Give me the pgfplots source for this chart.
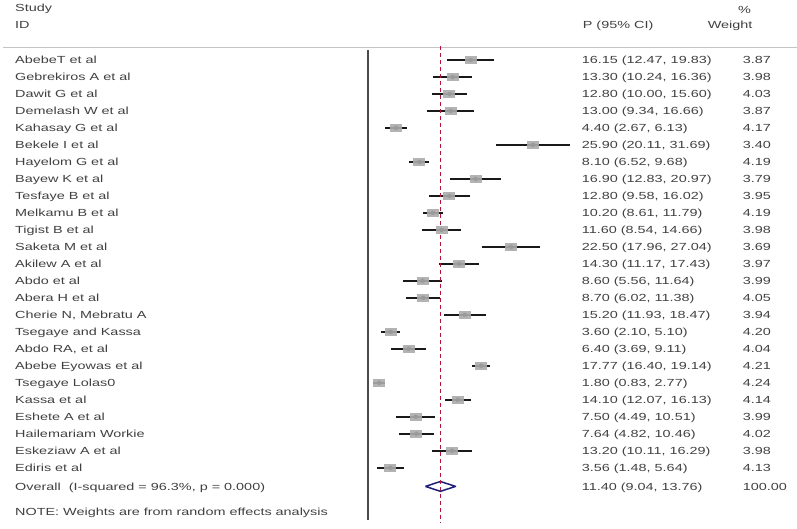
\documentclass[border=0pt]{standalone}
\usepackage{pgfplots}
\pgfplotsset{compat=1.18}
\usepackage{pgfplotstable}
\usepackage{fontspec}
\setmainfont{Liberation Sans}[FakeStretch=1.4]

\definecolor{txt}{HTML}{404040}
\definecolor{boxg}{HTML}{ABABAB}
\definecolor{zline}{HTML}{4A4A4A}
\definecolor{redd}{HTML}{B4143C}
\definecolor{dia}{HTML}{1E1E78}
\definecolor{hline}{HTML}{C4C4C4}

% row, estimate, lower, upper, weight
\pgfplotstableread{
row p lo hi w
1 16.15 12.47 19.83 3.87
2 13.30 10.24 16.36 3.98
3 12.80 10.00 15.60 4.03
4 13.00 9.34 16.66 3.87
5 4.40 2.67 6.13 4.17
6 25.90 20.11 31.69 3.40
7 8.10 6.52 9.68 4.19
8 16.90 12.83 20.97 3.79
9 12.80 9.58 16.02 3.95
10 10.20 8.61 11.79 4.19
11 11.60 8.54 14.66 3.98
12 22.50 17.96 27.04 3.69
13 14.30 11.17 17.43 3.97
14 8.60 5.56 11.64 3.99
15 8.70 6.02 11.38 4.05
16 15.20 11.93 18.47 3.94
17 3.60 2.10 5.10 4.20
18 6.40 3.69 9.11 4.04
19 17.77 16.40 19.14 4.21
20 1.80 0.83 2.77 4.24
21 14.10 12.07 16.13 4.14
22 7.50 4.49 10.51 3.99
23 7.64 4.82 10.46 4.02
24 13.20 10.11 16.29 3.98
25 3.56 1.48 5.64 4.13
}\studies

\newcommand\txtfont{\fontsize{10.3}{12}\selectfont}
% one study row: row, name, estimate text, weight
\newcommand\srow[4]{%
  \node[anchor=base west, text=txt, font=\txtfont, yshift=-3.7pt, inner sep=0pt] at (axis cs:-55.33,#1) {#2};
  \node[anchor=base west, text=txt, font=\txtfont, yshift=-3.7pt, inner sep=0pt] at (axis cs:33.54,#1) {#3};
  \node[anchor=base west, text=txt, font=\txtfont, yshift=-3.7pt, inner sep=0pt] at (axis cs:58.78,#1) {#4};
}

\begin{document}
\begin{tikzpicture}
\begin{axis}[
  scale only axis, width=797pt, height=529pt,
  xmin=-57.68, xmax=67.24, ymin=-2.529, ymax=28.588,
  y dir=reverse, clip=false,
  axis line style={draw=none}, ticks=none
]
% header rule
\addplot[hline, line width=1pt] coordinates {(-57.2,0.294)(67.24,0.294)};
% line of no effect
\addplot[zline, line width=2.4pt] coordinates {(0,0.41)(0,28.06)};

% confidence intervals
\addplot[only marks, mark=none,
  error bars/.cd, x dir=both, x explicit, error mark=none,
  error bar style={draw=black!90, line width=2.4pt}]
  table[x=p, y=row,
    x error minus expr=\thisrow{p}-\thisrow{lo},
    x error plus expr=\thisrow{hi}-\thisrow{p}] {\studies};

% weight boxes
\addplot[only marks, mark=square*, mark size=4pt, draw=none, fill=boxg,
  mark options={xscale=1.5, draw=none, draw opacity=0, fill=boxg, fill opacity=0.9}]
  table[x=p, y=row] {\studies};

% overall diamond
\addplot[dia, line width=1.5pt, line join=round, fill=white]
  coordinates {(9.04,26.1)(11.40,25.81)(13.76,26.1)(11.40,26.39)(9.04,26.1)};

% overall estimate
\addplot[redd, line width=1.1pt, dash pattern=on 4pt off 3pt]
  coordinates {(11.40,0.18)(11.40,28.24)};

% headers
\node[anchor=base west, text=txt, font=\txtfont, yshift=-3.7pt, inner sep=0pt] at (axis cs:-55.33,-2.06) {Study};
\node[anchor=base west, text=txt, font=\txtfont, yshift=-3.7pt, inner sep=0pt] at (axis cs:-55.33,-1.06) {ID};
\node[anchor=base west, text=txt, font=\txtfont, yshift=-3.7pt, inner sep=0pt] at (axis cs:33.70,-1.06) {P (95\% CI)};
\node[anchor=base west, text=txt, font=\txtfont, yshift=-3.7pt, inner sep=0pt] at (axis cs:53.29,-1.06) {Weight};
\node[anchor=base, text=txt, font=\txtfont, yshift=-3.7pt, inner sep=0pt] at (axis cs:59.09,-1.94) {\%};

\srow{1}{AbebeT et al}{16.15 (12.47, 19.83)}{3.87}
\srow{2}{Gebrekiros A et al}{13.30 (10.24, 16.36)}{3.98}
\srow{3}{Dawit G et al}{12.80 (10.00, 15.60)}{4.03}
\srow{4}{Demelash W et al}{13.00 (9.34, 16.66)}{3.87}
\srow{5}{Kahasay G et al}{4.40 (2.67, 6.13)}{4.17}
\srow{6}{Bekele I et al}{25.90 (20.11, 31.69)}{3.40}
\srow{7}{Hayelom G et al}{8.10 (6.52, 9.68)}{4.19}
\srow{8}{Bayew K et al}{16.90 (12.83, 20.97)}{3.79}
\srow{9}{Tesfaye B et al}{12.80 (9.58, 16.02)}{3.95}
\srow{10}{Melkamu B et al}{10.20 (8.61, 11.79)}{4.19}
\srow{11}{Tigist B et al}{11.60 (8.54, 14.66)}{3.98}
\srow{12}{Saketa M et al}{22.50 (17.96, 27.04)}{3.69}
\srow{13}{Akilew A et al}{14.30 (11.17, 17.43)}{3.97}
\srow{14}{Abdo et al}{8.60 (5.56, 11.64)}{3.99}
\srow{15}{Abera H et al}{8.70 (6.02, 11.38)}{4.05}
\srow{16}{Cherie N, Mebratu A}{15.20 (11.93, 18.47)}{3.94}
\srow{17}{Tsegaye and Kassa}{3.60 (2.10, 5.10)}{4.20}
\srow{18}{Abdo RA, et al}{6.40 (3.69, 9.11)}{4.04}
\srow{19}{Abebe Eyowas et al}{17.77 (16.40, 19.14)}{4.21}
\srow{20}{Tsegaye Lolas0}{1.80 (0.83, 2.77)}{4.24}
\srow{21}{Kassa et al}{14.10 (12.07, 16.13)}{4.14}
\srow{22}{Eshete A et al}{7.50 (4.49, 10.51)}{3.99}
\srow{23}{Hailemariam Workie}{7.64 (4.82, 10.46)}{4.02}
\srow{24}{Eskeziaw A et al}{13.20 (10.11, 16.29)}{3.98}
\srow{25}{Ediris et al}{3.56 (1.48, 5.64)}{4.13}
\srow{26.1}{Overall\ \ (I-squared = 96.3\%, p = 0.000)}{11.40 (9.04, 13.76)}{100.00}

\node[anchor=base west, text=txt, font=\txtfont, yshift=-3.7pt, inner sep=0pt] at (axis cs:-55.33,27.59) {NOTE: Weights are from random effects analysis};
\end{axis}
\end{tikzpicture}
\end{document}
